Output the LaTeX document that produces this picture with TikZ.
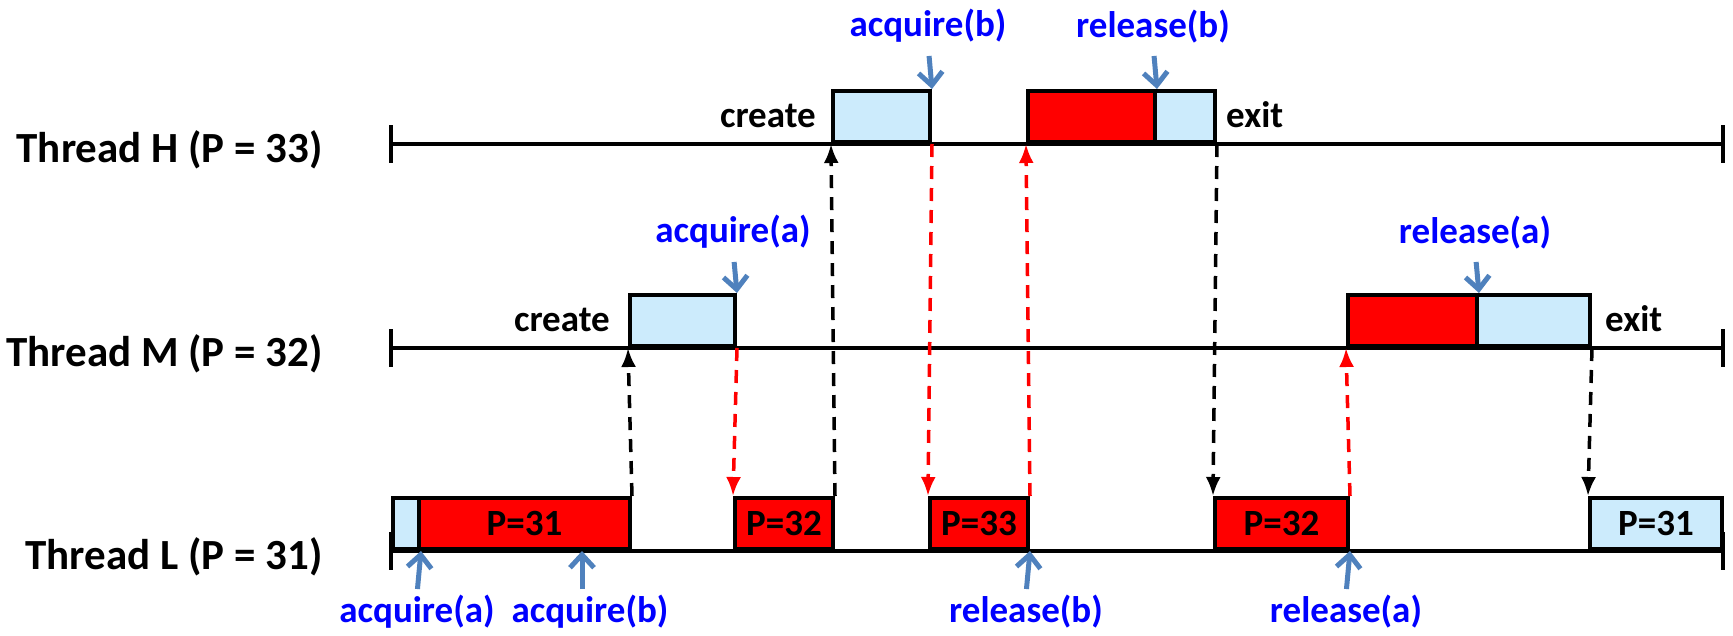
\documentclass[tikz,border=0pt]{standalone}
\usepackage{fontspec}
\setmainfont{Carlito}
\usetikzlibrary{arrows.meta}
\definecolor{lblue}{RGB}{204,235,252}
\definecolor{arrblue}{RGB}{79,129,189}
\newcommand\thrfont{\fontsize{43}{50}\selectfont\bfseries}
\newcommand\evfont{\fontsize{37}{44}\selectfont\bfseries}
\newcommand\prfont{\fontsize{37}{42}\selectfont\bfseries}
\tikzset{
  tl/.style={line width=3.5pt},
  box/.style={draw, line width=4pt, inner sep=0pt, anchor=south west, minimum height=51pt, font=\prfont},
  rbox/.style={box, fill=red},
  bbox/.style={box, fill=lblue},
  thr/.style={font=\thrfont, anchor=base east},
  ev/.style={font=\evfont, inner sep=0pt},
  tag/.style={font=\evfont, text=blue, inner sep=1pt},
  blarr/.style={arrblue, line width=5pt, -{Straight Barb[length=13pt,width=24pt]}},
  dsh/.style={line width=3.5pt, dash pattern=on 13pt off 9pt, ->},
}
\begin{document}
\begin{tikzpicture}[x=1pt, y=-1pt, >={Latex[length=19pt,width=15pt]}]
\useasboundingbox (0,0) rectangle (1733,635);

\node[thr] (nH) at (326,162) {Thread H (P = 33)};
\node[thr] (nM) at (326,366) {Thread M (P = 32)};
\node[thr] (nL) at (326,569) {Thread L (P = 31)};

% time lines with end ticks
\foreach \y in {144,348,551}{
  \draw[tl] (391,\y) -- (1723,\y);
  \draw[tl] (391,\y-19) -- (391,\y+19);
  \draw[tl] (1723,\y-19) -- (1723,\y+19);
}

% thread H
\node[bbox, minimum width=97pt] (Hc) at (831,144) {};
\node[rbox, minimum width=127pt] (Hr) at (1026,144) {};
\node[bbox, minimum width=60pt] (Hx) at (1153,144) {};
\node[ev, anchor=base east] (cH) at ([xshift=-15pt]Hc.south west |- 0,127) {create};
\node[ev, anchor=base west] (xH) at ([xshift=9pt]Hx.south east |- 0,127) {exit};

% thread M
\node[bbox, minimum width=105pt] (Mc) at (628,348) {};
\node[rbox, minimum width=129pt] (Mr) at (1346,348) {};
\node[bbox, minimum width=113pt] (Mx) at (1475,348) {};
\node[ev, anchor=base east] (cM) at ([xshift=-18pt]Mc.south west |- 0,331) {create};
\node[ev, anchor=base west] (xM) at ([xshift=13pt]Mx.south east |- 0,331) {exit};

% thread L
\node[bbox, minimum width=26pt] (L0) at (391,551) {};
\node[rbox, minimum width=211pt] (L1) at (417,551) {P=31};
\node[rbox, minimum width=98pt] (L2) at (733,551) {P=32};
\node[rbox, minimum width=98pt] (L3) at (928,551) {P=33};
\node[rbox, minimum width=133pt] (L4) at (1213,551) {P=32};
\node[bbox, minimum width=132pt] (L5) at (1588,551) {P=31};
\coordinate (aqb) at (582,551);

% switches between threads
\draw[dsh] (L1.north east) -- (Mc.south west);
\draw[dsh, red] (Mc.south east) -- (L2.north west);
\draw[dsh] (L2.north east) -- (Hc.south west);
\draw[dsh, red] (Hc.south east) -- (L3.north west);
\draw[dsh, red] (L3.north east) -- (Hr.south west);
\draw[dsh] (Hx.south east) -- (L4.north west);
\draw[dsh, red] (L4.north east) -- (Mr.south west);
\draw[dsh] (Mx.south east) -- (L5.north west);

% lock operations
\node[tag, anchor=south] (t1) at (928,44) {acquire(b)};
\node[tag, anchor=south] (t2) at (1153,44) {release(b)};
\node[tag, anchor=south] (t3) at (733,250) {acquire(a)};
\node[tag, anchor=south] (t4) at (1475,250) {release(a)};
\node[tag, anchor=north] (t5) at (417,594) {acquire(a)};
\node[tag, anchor=north] (t6) at (590,594) {acquire(b)};
\node[tag, anchor=north] (t7) at (1026,594) {release(b)};
\node[tag, anchor=north] (t8) at (1346,594) {release(a)};
\draw[blarr, shorten <=12pt] (t1.south) -- (Hc.north east);
\draw[blarr, shorten <=12pt] (t2.south) -- (Hr.north east);
\draw[blarr, shorten <=12pt] (t3.south) -- (Mc.north east);
\draw[blarr, shorten <=12pt] (t4.south) -- (Mr.north east);
\draw[blarr, shorten <=5pt] (t5.north) -- (L0.south east);
\draw[blarr, shorten <=5pt] (t6.north -| aqb) -- (aqb);
\draw[blarr, shorten <=5pt] (t7.north) -- (L3.south east);
\draw[blarr, shorten <=5pt] (t8.north) -- (L4.south east);
\end{tikzpicture}
\end{document}
